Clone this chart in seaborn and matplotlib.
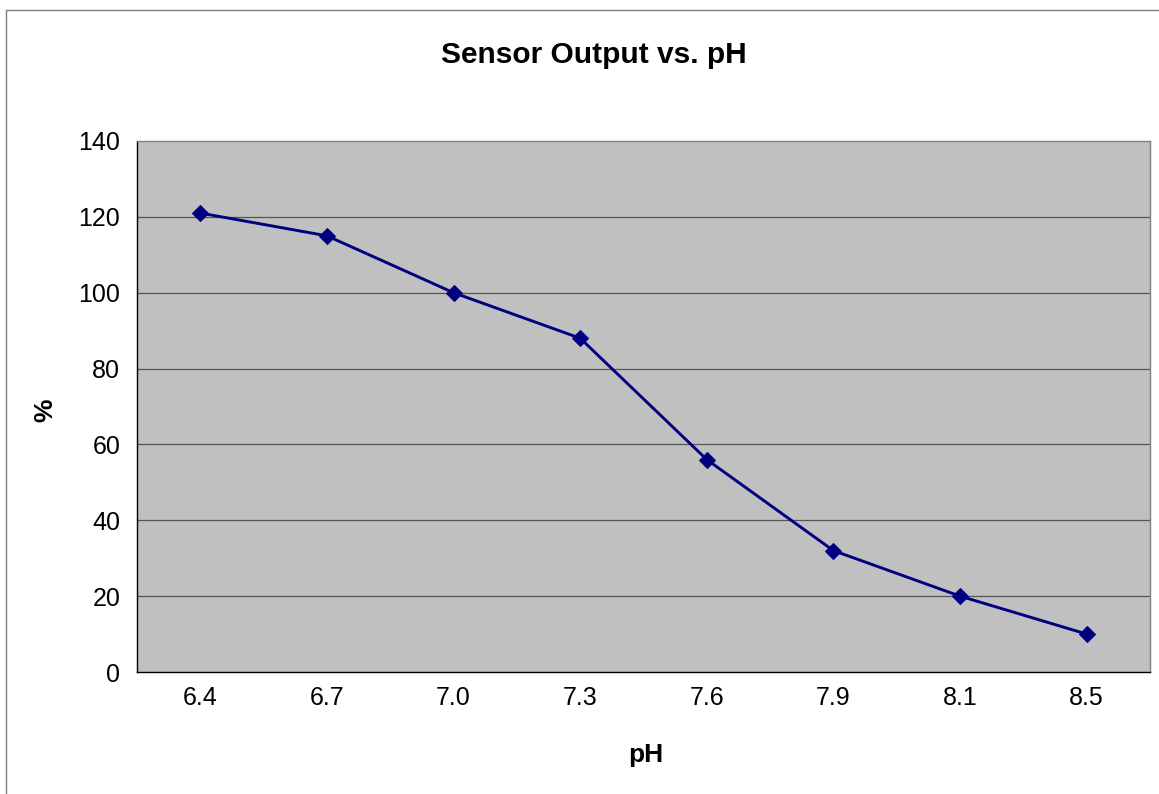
import numpy as np
import matplotlib
matplotlib.use("Agg")
import matplotlib.pyplot as plt
import seaborn as sns

# данные с графика
ph_labels = ["6.4", "6.7", "7.0", "7.3", "7.6", "7.9", "8.1", "8.5"]
output_pct = [121, 115, 100, 88, 56, 32, 20, 10]

sns.set_style("white")
plt.rcParams['font.family'] = ['Liberation Sans', 'DejaVu Sans']
plt.rcParams['text.color'] = 'black'
plt.rcParams['xtick.color'] = 'black'
plt.rcParams['ytick.color'] = 'black'
plt.rcParams['axes.labelcolor'] = 'black'

fig = plt.figure(figsize=(11.59, 7.94), dpi=100)
ax = fig.add_axes([137 / 1159, 1 - 672 / 794, (1150 - 137) / 1159, (672 - 141) / 794])
ax.set_facecolor('#C0C0C0')

pos = np.arange(len(ph_labels))
sns.lineplot(x=pos, y=output_pct, ax=ax, color='#000080', linewidth=2.1,
             marker='D', markersize=8, markeredgecolor='#000080')

ax.set_xlim(-0.5, len(ph_labels) - 0.5)
ax.set_ylim(0, 140)
ax.set_yticks(range(0, 141, 20))

# тики между категориями, подписи по центру
ax.set_xticks(np.arange(-0.5, len(ph_labels), 1.0))
ax.set_xticklabels([])
ax.set_xticks(pos, minor=True)
ax.set_xticklabels(ph_labels, minor=True)
ax.tick_params(axis='x', which='major', length=6, width=0.8, direction='out')
ax.tick_params(axis='x', which='minor', length=0, pad=10, labelsize=18)
ax.tick_params(axis='y', length=6, width=0.8, direction='out', pad=6, labelsize=18)

for y in range(20, 140, 20):
    ax.axhline(y, color='#555555', linewidth=0.9, zorder=0.5)

ax.spines['left'].set_color('black')
ax.spines['bottom'].set_color('black')
ax.spines['top'].set_color('#808080')
ax.spines['right'].set_color('#808080')
for s in ax.spines.values():
    s.set_linewidth(1.0)
    s.set_visible(True)

fig.text(594 / 1159, 1 - 55 / 794, "Sensor Output vs. pH",
         ha='center', va='center', fontsize=21.5, fontweight='bold')
fig.text(646 / 1159, 1 - 755 / 794, "pH", ha='center', va='center',
         fontsize=19, fontweight='bold')
fig.text(45 / 1159, 1 - 410 / 794, "%", ha='center', va='center',
         fontsize=19, fontweight='bold', rotation=90)

# рамка вокруг диаграммы
fig.add_artist(plt.Line2D([6 / 1159, 6 / 1159], [0, 1 - 10 / 794], color='#808080', linewidth=1))
fig.add_artist(plt.Line2D([6 / 1159, 1], [1 - 10 / 794, 1 - 10 / 794], color='#808080', linewidth=1))

fig.savefig("out.png", dpi=100)
